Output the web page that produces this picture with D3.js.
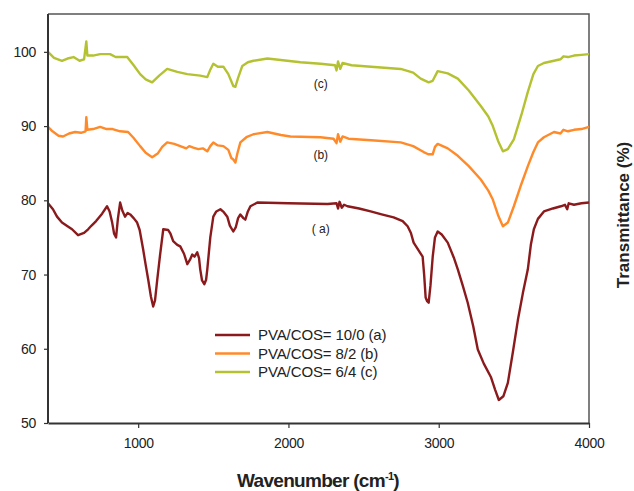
<!DOCTYPE html>
<html>
<head>
<meta charset="utf-8">
<script src="https://cdn.jsdelivr.net/npm/d3@7"></script>
<style>
  body { margin: 0; background: #fff; }
  text { font-family: "Liberation Sans", Arial, sans-serif; fill: #222; }
</style>
</head>
<body>
<svg id="chart" width="634" height="491"></svg>
<script>
// spectrum (a) PVA/COS = 10/0 : [wavenumber, transmittance]
const specA = [
  [400,79.6],[433,78.8],[460,77.8],[493,77.0],[530,76.5],[560,76.1],[600,75.3],[640,75.6],
  [667,76.1],[690,76.6],[720,77.2],[760,78.2],[793,79.2],[810,78.5],[827,77.0],[840,75.5],
  [853,75.0],[865,77.5],[880,79.7],[895,78.6],[913,77.8],[930,78.3],[947,78.1],[970,77.6],
  [993,77.0],[1010,76.0],[1033,73.4],[1050,71.3],[1067,69.3],[1085,67.0],[1100,65.7],[1112,66.5],
  [1127,69.3],[1145,72.5],[1167,76.1],[1200,76.0],[1215,75.5],[1233,74.5],[1260,74.0],[1280,73.8],
  [1305,72.8],[1327,71.4],[1345,72.0],[1360,72.7],[1375,72.4],[1393,73.0],[1405,72.2],[1413,70.7],
  [1425,69.2],[1440,68.7],[1452,69.3],[1460,70.7],[1480,75.0],[1500,77.8],[1520,78.5],[1547,78.8],
  [1570,78.4],[1593,77.8],[1610,76.6],[1633,75.8],[1650,76.4],[1665,77.6],[1680,78.1],[1700,77.6],
  [1713,77.4],[1730,78.5],[1747,79.2],[1793,79.7],[2000,79.6],[2260,79.5],[2320,79.6],[2330,78.9],
  [2340,79.8],[2355,79.0],[2370,79.4],[2393,79.2],[2470,78.9],[2547,78.5],[2620,78.1],[2700,77.7],
  [2760,77.2],[2793,76.5],[2815,75.6],[2833,74.3],[2865,73.3],[2893,72.4],[2903,70.0],[2913,66.9],
  [2923,66.4],[2933,66.2],[2945,68.5],[2960,72.4],[2975,75.0],[2993,75.8],[3020,75.4],[3060,74.3],
  [3100,72.3],[3127,70.7],[3160,68.5],[3193,66.2],[3230,63.0],[3260,59.9],[3300,58.0],[3347,56.2],
  [3375,54.5],[3400,53.1],[3430,53.6],[3460,55.4],[3493,59.5],[3527,63.9],[3560,67.5],[3593,70.7],
  [3613,74.0],[3633,76.1],[3660,77.5],[3700,78.5],[3760,78.9],[3813,79.2],[3840,79.4],[3855,78.8],
  [3865,79.6],[3900,79.4],[3950,79.6],[4000,79.7]
];

// spectrum (b) PVA/COS = 8/2
const specB = [
  [400,89.9],[430,89.3],[470,88.7],[500,88.6],[540,89.0],[580,89.2],[620,89.1],[650,89.3],
  [655,91.2],[662,89.5],[700,89.6],[747,89.9],[790,89.6],[830,89.6],[880,89.3],[933,89.2],
  [970,88.4],[1013,87.3],[1050,86.4],[1093,85.8],[1130,86.3],[1160,87.2],[1193,87.8],[1240,87.6],
  [1280,87.3],[1320,87.0],[1340,87.3],[1367,87.1],[1400,86.9],[1430,87.0],[1460,86.6],[1480,87.3],
  [1500,87.8],[1530,87.4],[1567,87.3],[1600,86.8],[1620,85.7],[1633,85.5],[1647,85.1],[1660,86.3],
  [1680,87.8],[1720,88.5],[1767,88.9],[1860,89.2],[1950,88.8],[2013,88.6],[2213,88.5],[2300,88.3],
  [2320,87.7],[2330,88.9],[2345,87.9],[2360,88.6],[2400,88.3],[2550,88.1],[2747,87.8],[2830,87.3],
  [2900,86.5],[2930,86.2],[2960,86.2],[2975,87.2],[2993,87.6],[3060,87.0],[3127,86.0],[3200,84.6],
  [3280,82.8],[3330,81.3],[3360,80.1],[3395,78.0],[3427,76.5],[3460,77.0],[3500,79.2],[3550,82.2],
  [3593,84.6],[3630,86.5],[3660,87.8],[3700,88.5],[3767,89.2],[3810,89.0],[3830,89.5],[3860,89.3],
  [3900,89.5],[3950,89.6],[4000,89.9]
];

// spectrum (c) PVA/COS = 6/4
const specC = [
  [400,100.0],[440,99.2],[493,98.8],[530,99.1],[570,99.3],[610,98.8],[640,99.0],[655,101.4],
  [662,99.5],[700,99.5],[747,99.7],[813,99.7],[850,99.3],[927,99.3],[970,98.2],[1013,97.0],
  [1050,96.3],[1093,95.9],[1140,96.8],[1193,97.7],[1260,97.3],[1327,97.0],[1370,96.9],[1413,96.8],
  [1460,96.6],[1480,97.6],[1500,98.4],[1530,98.0],[1567,98.0],[1600,97.0],[1633,95.4],[1647,95.3],
  [1665,96.5],[1693,98.1],[1730,98.6],[1767,98.8],[1860,99.1],[2080,98.6],[2213,98.4],[2310,98.2],
  [2320,97.5],[2330,98.7],[2345,97.7],[2360,98.5],[2420,98.2],[2550,98.0],[2747,97.7],[2830,97.2],
  [2880,96.4],[2933,95.9],[2960,96.1],[2993,97.4],[3060,97.1],[3127,96.4],[3200,94.8],[3280,92.7],
  [3330,91.3],[3360,90.0],[3395,88.0],[3427,86.6],[3460,86.9],[3500,88.2],[3550,91.5],[3593,94.6],
  [3630,97.0],[3660,98.1],[3700,98.5],[3767,98.8],[3810,99.0],[3830,99.4],[3860,99.3],[3900,99.5],
  [3950,99.6],[4000,99.7]
];

const seriesNames = ["PVA/COS= 10/0 (a)", "PVA/COS= 8/2 (b)", "PVA/COS= 6/4 (c)"];
const curveTags = ["( a)", "(b)", "(c)"];
const xTicks = [1000, 2000, 3000, 4000];
const yTicks = [50, 60, 70, 80, 90, 100];

const colors = ["#8b1a1c", "#ff8a2a", "#b4c231"];

const svg = d3.select("#chart");
const margin = {left: 48, right: 45, top: 14, bottom: 68};
const W = 634, H = 491;

const x = d3.scaleLinear().domain([400, 4000]).range([margin.left, W - margin.right]);
const y = d3.scaleLinear().domain([50, 105.1]).range([H - margin.bottom, margin.top]);

// frame: top and right
svg.append("path")
    .attr("d", `M${x(400)},${y(105.1)}H${x(4000)}V${y(50)}`)
    .attr("fill", "none")
    .attr("stroke", "#555")
    .attr("stroke-width", 1.5);

// curves
const line = d3.line()
    .x(d => x(d[0]))
    .y(d => y(d[1]));

[specC, specB, specA].forEach((s, i) => {
    svg.append("path")
        .datum(s)
        .attr("d", line)
        .attr("fill", "none")
        .attr("stroke", colors[2 - i])
        .attr("stroke-width", 2.4)
        .attr("stroke-linejoin", "round");
});

// axes
const xAxis = svg.append("g")
    .attr("transform", `translate(0,${y(50)})`)
    .call(d3.axisBottom(x).tickValues(xTicks).tickFormat(d3.format("d"))
        .tickSize(5).tickPadding(10).tickSizeOuter(0));
const yAxis = svg.append("g")
    .attr("transform", `translate(${x(400)},0)`)
    .call(d3.axisLeft(y).tickValues(yTicks).tickSize(4).tickPadding(8).tickSizeOuter(0));

[xAxis, yAxis].forEach(g => {
    g.select(".domain").attr("stroke", "#333").attr("stroke-width", 2);
    g.selectAll(".tick line").attr("stroke", "#333").attr("stroke-width", 1.2);
    g.selectAll(".tick text")
        .style("font-family", "'Liberation Sans', Arial, sans-serif")
        .style("font-size", "14px")
        .style("letter-spacing", "-0.3px")
        .attr("fill", "#222");
});
// y axis domain extends to frame top
yAxis.select(".domain").attr("d", `M0,${y(105.1)}V${y(50)}`);

// curve tags
const tagPos = [[2215, 75.6], [2215, 85.5], [2215, 95.1]];
curveTags.forEach((t, i) => {
    svg.append("text")
        .attr("x", x(tagPos[i][0]))
        .attr("y", y(tagPos[i][1]))
        .attr("text-anchor", "middle")
        .style("font-size", "12px")
        .text(t);
});

// legend
const legend = svg.append("g");
seriesNames.forEach((n, i) => {
    const ly = 335 + i * 18.5;
    legend.append("line")
        .attr("x1", 215).attr("x2", 250)
        .attr("y1", ly).attr("y2", ly)
        .attr("stroke", colors[i])
        .attr("stroke-width", 2.6);
    legend.append("text")
        .attr("x", 258).attr("y", ly + 5)
        .style("font-size", "15px")
        .style("letter-spacing", "-0.1px")
        .text(n);
});

// axis titles
const xt = svg.append("text")
    .attr("x", 318).attr("y", 487)
    .attr("text-anchor", "middle")
    .style("font-size", "19px")
    .style("font-weight", "bold")
    .style("letter-spacing", "-0.7px");
xt.append("tspan").text("Wavenumber (cm");
xt.append("tspan").attr("dy", -7).style("font-size", "11px").text("-1");
xt.append("tspan").attr("dy", 7).text(")");

svg.append("text")
    .attr("transform", "translate(629,215) rotate(-90)")
    .attr("text-anchor", "middle")
    .style("font-size", "17px")
    .style("font-weight", "bold")
    .text("Transmittance (%)");
</script>
</body>
</html>
